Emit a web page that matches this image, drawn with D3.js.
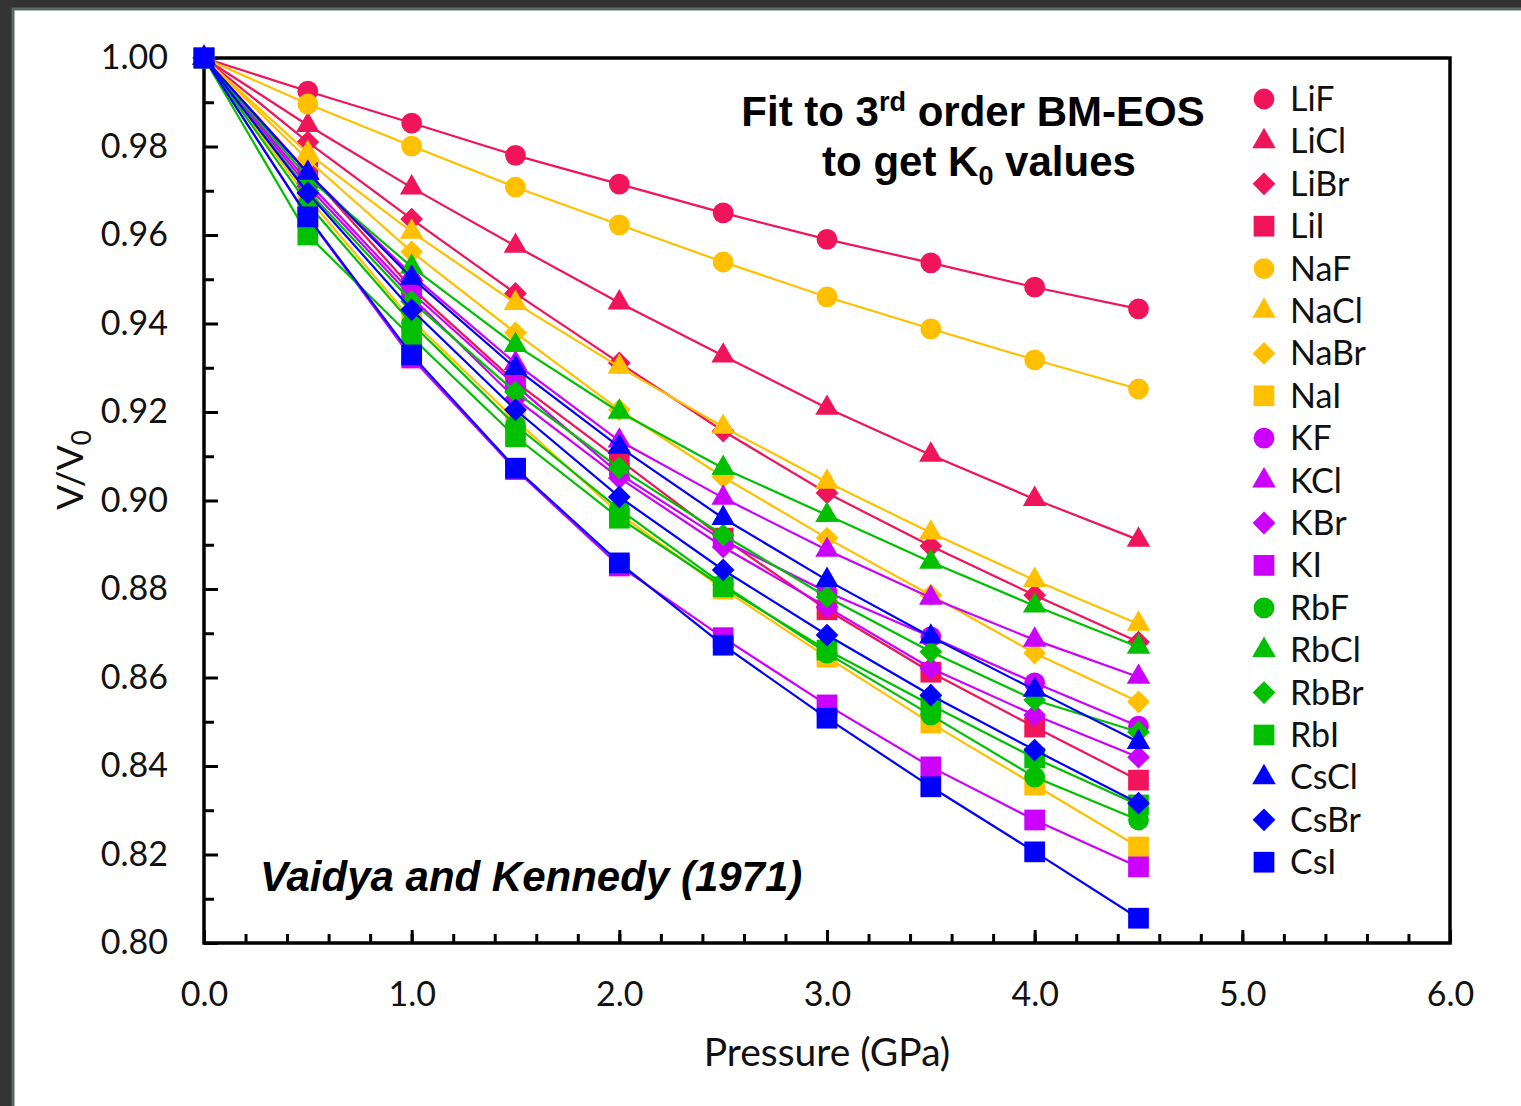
<!DOCTYPE html>
<html>
<head>
<meta charset="utf-8">
<script src="https://cdn.jsdelivr.net/npm/d3@7"></script>
<style>
  body { margin: 0; background: #333; }
  svg { display: block; }
</style>
</head>
<body>
<div id="chart"></div>
<script>
// pressure steps (GPa)
const pressures = [0, 0.5, 1.0, 1.5, 2.0, 2.5, 3.0, 3.5, 4.0, 4.5];

// V/V0 values
const LiF  = [1, 0.9925, 0.9853, 0.9780, 0.9715, 0.9650, 0.9590, 0.9537, 0.9482, 0.9433];
const LiCl = [1, 0.9848, 0.9707, 0.9575, 0.9447, 0.9327, 0.9209, 0.9103, 0.9003, 0.8911];
const LiBr = [1, 0.9810, 0.9636, 0.9468, 0.9311, 0.9157, 0.9017, 0.8897, 0.8786, 0.8680];
const LiI  = [1, 0.9742, 0.9480, 0.9268, 0.9092, 0.8915, 0.8753, 0.8612, 0.8488, 0.8368];
const NaF  = [1, 0.9896, 0.9801, 0.9708, 0.9623, 0.9539, 0.9460, 0.9388, 0.9318, 0.9252];
const NaCl = [1, 0.9785, 0.9607, 0.9446, 0.9302, 0.9166, 0.9042, 0.8927, 0.8820, 0.8721];
const NaBr = [1, 0.9770, 0.9562, 0.9379, 0.9205, 0.9053, 0.8915, 0.8786, 0.8655, 0.8545];
const NaI  = [1, 0.9684, 0.9408, 0.9182, 0.8970, 0.8800, 0.8646, 0.8497, 0.8357, 0.8217];
const KF   = [1, 0.9720, 0.9470, 0.9260, 0.9060, 0.8910, 0.8793, 0.8692, 0.8588, 0.8490];
const KCl  = [1, 0.9740, 0.9510, 0.9310, 0.9135, 0.9006, 0.8888, 0.8780, 0.8685, 0.8601];
const KBr  = [1, 0.9710, 0.9460, 0.9230, 0.9051, 0.8895, 0.8759, 0.8621, 0.8515, 0.8420];
const KI   = [1, 0.9640, 0.9322, 0.9070, 0.8852, 0.8690, 0.8538, 0.8398, 0.8278, 0.8172];
const RbF  = [1, 0.9670, 0.9400, 0.9170, 0.8980, 0.8810, 0.8655, 0.8515, 0.8375, 0.8278];
const RbCl = [1, 0.9730, 0.9528, 0.9351, 0.9200, 0.9073, 0.8967, 0.8861, 0.8762, 0.8669];
const RbBr = [1, 0.9700, 0.9450, 0.9245, 0.9073, 0.8922, 0.8782, 0.8658, 0.8549, 0.8477];
const RbI  = [1, 0.9600, 0.9369, 0.9144, 0.8960, 0.8805, 0.8662, 0.8538, 0.8418, 0.8312];
const CsCl = [1, 0.9740, 0.9503, 0.9299, 0.9121, 0.8960, 0.8820, 0.8692, 0.8572, 0.8454];
const CsBr = [1, 0.9695, 0.9431, 0.9205, 0.9008, 0.8843, 0.8696, 0.8560, 0.8436, 0.8316];
const CsI  = [1, 0.9641, 0.9329, 0.9073, 0.8859, 0.8673, 0.8508, 0.8353, 0.8206, 0.8056];

const seriesNames = ["LiF", "LiCl", "LiBr", "LiI", "NaF", "NaCl", "NaBr", "NaI",
  "KF", "KCl", "KBr", "KI", "RbF", "RbCl", "RbBr", "RbI", "CsCl", "CsBr", "CsI"];
const seriesValues = [LiF, LiCl, LiBr, LiI, NaF, NaCl, NaBr, NaI,
  KF, KCl, KBr, KI, RbF, RbCl, RbBr, RbI, CsCl, CsBr, CsI];

const xTicks = [0, 1, 2, 3, 4, 5, 6];
const yTicks = [0.80, 0.82, 0.84, 0.86, 0.88, 0.90, 0.92, 0.94, 0.96, 0.98, 1.00];

// colours / shapes by cation and anion
const cationColor = { Li: "#f0145a", Na: "#ffc000", K: "#cc00ff", Rb: "#00c000", Cs: "#0000ff" };
const anionShape = {
  F: "circle", Cl: "triangle", Br: "diamond", I: "square"
};

const width = 1521, height = 1106;
const plot = { left: 204, right: 1450, top: 58, bottom: 943 };

const svg = d3.select("#chart").append("svg")
  .attr("width", width)
  .attr("height", height);

// white panel
svg.append("rect")
  .attr("x", 13).attr("y", 9)
  .attr("width", width).attr("height", height)
  .attr("fill", "#fff")
  .attr("stroke", "#5a6868")
  .attr("stroke-width", 3);

const x = d3.scaleLinear().domain([0, 6]).range([plot.left, plot.right]);
const y = d3.scaleLinear().domain([0.8, 1.0]).range([plot.bottom, plot.top]);

const tickFont = "Lato, 'Open Sans', sans-serif";

// minor ticks
svg.append("g")
  .attr("transform", `translate(0,${plot.bottom})`)
  .call(d3.axisBottom(x).tickValues(d3.range(0.2, 6, 0.2)).tickFormat("").tickSize(-9).tickSizeOuter(0))
  .call(g => g.select(".domain").remove())
  .call(g => g.selectAll("line").attr("stroke-width", 3));
svg.append("g")
  .attr("transform", `translate(${plot.left},0)`)
  .call(d3.axisLeft(y).tickValues(d3.range(0.81, 1.0, 0.02)).tickFormat("").tickSize(-10).tickSizeOuter(0))
  .call(g => g.select(".domain").remove())
  .call(g => g.selectAll("line").attr("stroke-width", 3));

// major ticks + labels
svg.append("g")
  .attr("transform", `translate(0,${plot.bottom})`)
  .call(d3.axisBottom(x).tickValues(xTicks).tickFormat(d3.format(".1f")).tickSize(-13).tickSizeOuter(0).tickPadding(39))
  .call(g => g.select(".domain").remove())
  .call(g => g.selectAll("line").attr("stroke-width", 3))
  .call(g => g.selectAll("text").attr("font-family", tickFont).attr("font-size", 34).attr("fill", "#111"));
svg.append("g")
  .attr("transform", `translate(${plot.left},0)`)
  .call(d3.axisLeft(y).tickValues(yTicks).tickFormat(d3.format(".2f")).tickSize(-14).tickSizeOuter(0).tickPadding(36))
  .call(g => g.select(".domain").remove())
  .call(g => g.selectAll("line").attr("stroke-width", 3))
  .call(g => g.selectAll("text").attr("font-family", tickFont).attr("font-size", 34).attr("fill", "#111"));

// plot frame
svg.append("rect")
  .attr("x", plot.left).attr("y", plot.top)
  .attr("width", plot.right - plot.left).attr("height", plot.bottom - plot.top)
  .attr("fill", "none")
  .attr("stroke", "#000")
  .attr("stroke-width", 3.5);

function symbolFor(shape) {
  if (shape === "circle") return d3.symbol(d3.symbolCircle, 340);
  if (shape === "triangle") return d3.symbol(d3.symbolTriangle, 240);
  if (shape === "diamond") return d3.symbol(d3.symbolDiamond2, 330);
  return d3.symbol(d3.symbolSquare, 430);
}

const series = seriesNames.map((name, i) => {
  const cation = name.match(/^(Li|Na|K|Rb|Cs)/)[1];
  const anion = name.slice(cation.length);
  return {
    name,
    color: cationColor[cation],
    shape: anionShape[anion],
    points: pressures.map((p, j) => ({ p, v: seriesValues[i][j] }))
  };
});

const line = d3.line().x(d => x(d.p)).y(d => y(d.v));

series.forEach(s => {
  const g = svg.append("g");
  g.append("path")
    .datum(s.points)
    .attr("d", line)
    .attr("fill", "none")
    .attr("stroke", s.color)
    .attr("stroke-width", 2.2);
  g.selectAll("path.pt")
    .data(s.points)
    .join("path")
    .attr("class", "pt")
    .attr("transform", d => `translate(${x(d.p)},${y(d.v)})`)
    .attr("d", symbolFor(s.shape))
    .attr("fill", s.color);
});

// legend (LiF..CsI, top to bottom)
const legend = svg.append("g");
series.forEach((s, i) => {
  const ly = 99 + i * 42.4;
  legend.append("path")
    .attr("transform", `translate(1264,${ly})`)
    .attr("d", symbolFor(s.shape))
    .attr("fill", s.color);
  legend.append("text")
    .attr("x", 1290).attr("y", ly + 12)
    .attr("font-family", tickFont)
    .attr("font-size", 34)
    .attr("fill", "#111")
    .text(s.name);
});

// axis titles
svg.append("text")
  .attr("x", 827).attr("y", 1066)
  .attr("text-anchor", "middle")
  .attr("font-family", tickFont)
  .attr("font-size", 39)
  .attr("fill", "#111")
  .text("Pressure (GPa)");

const yLab = svg.append("text")
  .attr("transform", "translate(83,470) rotate(-90)")
  .attr("text-anchor", "middle")
  .attr("font-family", tickFont)
  .attr("font-size", 37)
  .attr("fill", "#111");
yLab.append("tspan").text("V/V");
yLab.append("tspan").attr("font-size", 26).attr("dy", 8).text("0");

// annotations
const note = svg.append("text")
  .attr("font-family", "'Liberation Sans', Arial, sans-serif")
  .attr("font-weight", "bold")
  .attr("font-size", 42)
  .attr("fill", "#000")
  .attr("text-anchor", "middle");
const l1 = note.append("tspan").attr("x", 973).attr("y", 126);
l1.append("tspan").text("Fit to 3");
l1.append("tspan").attr("font-size", 27).attr("dy", -15).text("rd");
l1.append("tspan").attr("dy", 15).text(" order BM-EOS");
const l2 = note.append("tspan").attr("x", 979).attr("y", 176);
l2.append("tspan").text("to get K");
l2.append("tspan").attr("font-size", 27).attr("dy", 9).text("0");
l2.append("tspan").attr("dy", -9).text(" values");

svg.append("text")
  .attr("x", 260).attr("y", 891)
  .attr("font-family", "'Liberation Sans', Arial, sans-serif")
  .attr("font-weight", "bold")
  .attr("font-style", "italic")
  .attr("font-size", 42)
  .attr("fill", "#000")
  .text("Vaidya and Kennedy (1971)");
</script>
</body>
</html>
